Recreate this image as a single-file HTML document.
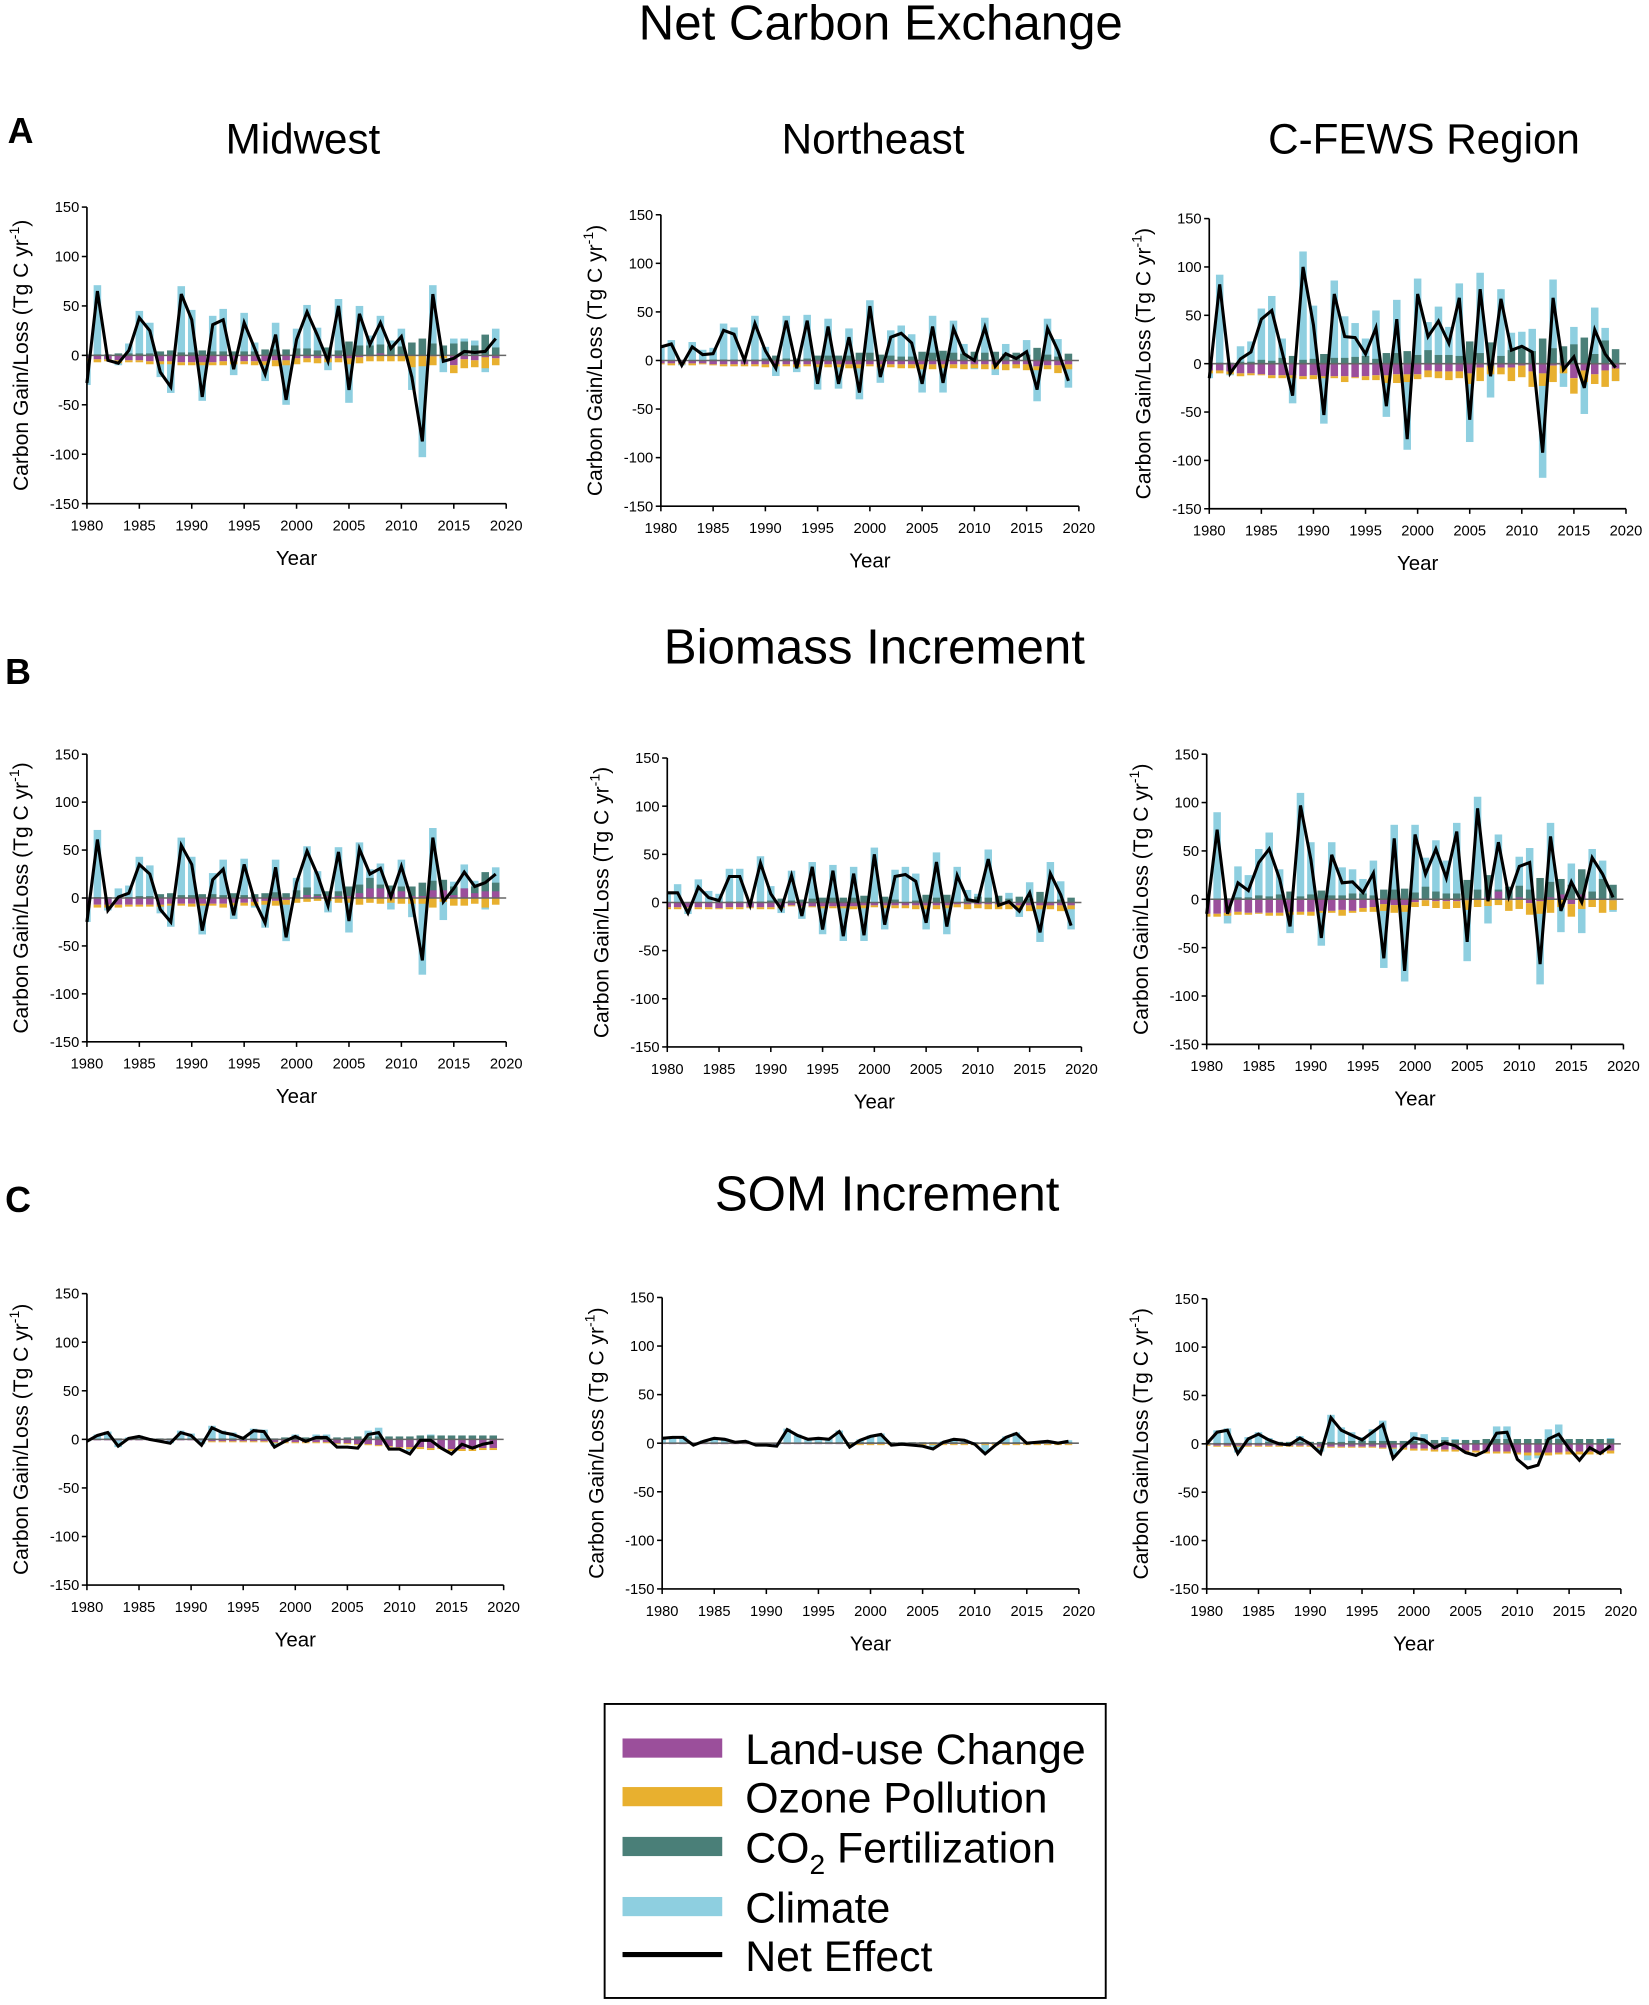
<!DOCTYPE html>
<html><head><meta charset="utf-8"><style>
html,body{margin:0;padding:0;background:#fff;}
svg{display:block;font-family:"Liberation Sans",Arial,sans-serif;}
</style></head><body>
<svg id="fig" width="1649" height="2005" viewBox="0 0 1290 1568.5" xmlns="http://www.w3.org/2000/svg">
<text x="689" y="31" font-size="38.5" text-anchor="middle">Net Carbon Exchange</text>
<text x="6" y="112" font-size="28" font-weight="bold">A</text>
<text x="237" y="120" font-size="33" text-anchor="middle">Midwest</text>
<text x="683" y="120" font-size="33" text-anchor="middle">Northeast</text>
<text x="1114" y="120" font-size="33" text-anchor="middle">C-FEWS Region</text>
<text x="684" y="519" font-size="38.5" text-anchor="middle">Biomass Increment</text>
<text x="4" y="535" font-size="28" font-weight="bold">B</text>
<text x="694" y="947" font-size="38.5" text-anchor="middle">SOM Increment</text>
<text x="4" y="948" font-size="28" font-weight="bold">C</text>
<g>
<rect x="473" y="1333" width="392" height="230" fill="#fff" stroke="#000" stroke-width="1.5"/>
<rect x="487" y="1360" width="78" height="15" fill="#9b4f9b"/>
<text x="583" y="1380" font-size="33.5">Land-use Change</text>
<rect x="487" y="1398" width="78" height="15" fill="#e8b02f"/>
<text x="583" y="1418" font-size="33.5">Ozone Pollution</text>
<rect x="487" y="1437" width="78" height="15" fill="#4a7f78"/>
<text x="583" y="1457" font-size="33.5">CO<tspan font-size="22" dy="9">2</tspan><tspan dy="-9"> Fertilization</tspan></text>
<rect x="487" y="1484" width="78" height="15" fill="#8ecfe0"/>
<text x="583" y="1504" font-size="33.5">Climate</text>
<line x1="487" y1="1529" x2="565" y2="1529" stroke="#000" stroke-width="4"/>
<text x="583" y="1542" font-size="33.5">Net Effect</text>
</g>
<g id="plots"></g>
</svg>
<script>
const years=[];for(let y=1980;y<=2019;y++)years.push(y);
const xTicks=[1980,1985,1990,1995,2000,2005,2010,2015,2020];
const yTicks=[150,100,50,0,-50,-100,-150];

const A_mw_net=[-28,65,-5,-8,5,38,25,-17,-32,62,36,-42,31,36,-14,33,7,-19,21,-45,16,44,20,-6,50,-35,42,11,33,7,19,-22,-87,62,-6,-3,4,3,4,17];
const A_mw_clim=[-30,71,-5,-10,12,45,33,-22,-38,70,46,-46,40,47,-20,43,13,-26,33,-50,27,51,28,-15,57,-48,50,20,40,15,27,-35,-103,71,-17,17,17,15,-17,27];
const A_mw_co2=[1,1,1,2,2,2,2,4,5,3,3,5,4,4,4,4,4,6,6,6,7,7,5,8,5,14,10,10,11,10,9,13,17,12,10,12,14,10,21,8];
const A_mw_lu=[-3,-4,-4,-5,-5,-5,-6,-6,-6,-7,-7,-7,-7,-6,-6,-6,-6,-6,-5,-5,-3,-3,-3,-3,-3,-3,-2,-1,2,0,1,0,0,-1,0,-10,-4,-5,-2,-3];
const A_mw_oz=[-3,-3,-2,-3,-2,-2,-3,-3,-3,-3,-3,-3,-3,-4,-3,-3,-4,-4,-6,-5,-6,-4,-5,-4,-4,-6,-6,-5,-6,-6,-6,-12,-11,-9,-3,-8,-9,-7,-11,-7];

const A_ne_net=[14,17,-5,14,6,7,31,27,0,38,10,-8,41,-8,41,-24,35,-24,24,-33,56,-17,24,28,18,-24,35,-23,33,7,0,34,-6,7,2,9,-30,33,10,-21];
const A_ne_clim=[14,21,-5,19,11,13,38,34,0,46,14,-16,46,-12,47,-30,43,-29,33,-40,62,-23,31,36,27,-33,46,-33,41,17,-9,44,-15,17,-8,21,-42,43,22,-28];
const A_ne_co2=[0,0,0,0,0,1,1,1,1,1,2,5,2,2,2,5,5,5,5,8,8,6,5,4,4,9,8,10,8,7,9,8,9,7,8,6,13,6,4,7];
const A_ne_lu=[-3,-3,-3,-3,-3,-4,-4,-4,-4,-4,-4,-4,-4,-4,-4,-4,-4,-4,-4,-4,-4,-4,-4,-4,-4,-4,-4,-4,-4,-4,-4,-4,-4,-4,-4,-4,-6,-5,-5,-4];
const A_ne_oz=[-1,-2,-1,-2,-1,-1,-2,-2,-2,-2,-3,-2,-2,-3,-2,-3,-3,-3,-4,-4,-2,-3,-3,-4,-4,-5,-5,-4,-4,-5,-4,-5,-5,-6,-4,-6,-4,-4,-8,-5];

const A_cf_net=[-15,82,-10,5,12,46,55,12,-33,100,40,-53,72,28,27,10,37,-44,46,-78,72,28,44,21,68,-58,77,-13,67,14,18,12,-92,68,-6,7,-25,35,10,-4];
const A_cf_clim=[-15,92,-12,18,23,57,70,26,-41,116,60,-62,86,49,42,26,55,-55,66,-89,88,43,59,38,83,-81,94,-35,77,32,33,36,-118,87,-24,38,-52,58,37,-18];
const A_cf_co2=[0,1,1,2,2,4,3,6,8,4,5,10,6,6,7,8,5,11,11,13,9,14,9,9,8,23,11,22,8,14,16,13,26,16,18,20,27,10,24,15];
const A_cf_lu=[-7,-7,-8,-10,-10,-11,-12,-12,-12,-13,-12,-13,-13,-13,-14,-13,-12,-12,-11,-11,-11,-7,-8,-8,-8,-10,-4,-2,-4,-4,-2,-8,-10,-2,-2,-15,-7,-11,-7,-5];
const A_cf_oz=[-3,-3,-3,-3,-2,-1,-3,-3,-3,-3,-4,-2,-2,-6,-1,-4,-5,-8,-9,-8,-5,-7,-7,-9,-7,-11,-14,-9,-7,-14,-12,-16,-13,-17,-8,-16,-12,-10,-17,-13];

const B_mw_net=[-25,61,-13,1,5,35,25,-12,-25,55,35,-34,19,30,-18,35,-3,-26,32,-41,16,49,24,-8,48,-24,51,25,31,1,33,-3,-65,63,-4,10,27,12,16,25];
const B_mw_clim=[-25,71,-13,10,13,43,34,-16,-30,63,43,-38,26,40,-22,41,-10,-31,40,-45,21,54,28,-15,53,-36,58,30,36,-12,40,-20,-80,73,-23,17,35,18,-12,32];
const B_mw_co2=[0,1,1,1,1,2,2,4,5,3,3,4,4,3,5,3,4,5,6,5,8,11,4,7,7,12,14,21,14,13,12,12,16,18,19,12,10,12,27,16];
const B_mw_lu=[-7,-7,-7,-7,-7,-7,-7,-7,-6,-6,-6,-6,-6,-6,-5,-5,-4,-3,-3,-2,0,3,2,2,2,2,5,10,10,5,7,2,2,8,8,3,10,5,7,7];
const B_mw_oz=[-3,-3,-3,-3,-2,-2,-2,-2,-2,-2,-3,-2,-2,-4,-3,-3,-4,-4,-5,-5,-5,-4,-3,-3,-5,-5,-7,-5,-6,-5,-6,-6,-6,-10,-4,-8,-8,-6,-10,-7];

const B_ne_net=[10,10,-11,16,5,2,27,27,-3,41,9,-7,28,-14,37,-28,33,-35,30,-34,50,-23,27,29,22,-21,42,-25,28,3,1,45,-3,1,-9,10,-31,30,8,-24];
const B_ne_clim=[10,19,-12,24,12,9,35,35,-3,48,17,-11,33,-17,42,-33,39,-40,37,-40,57,-28,34,37,30,-28,52,-33,37,13,9,55,-4,10,-15,21,-41,42,22,-28];
const B_ne_co2=[0,0,0,0,0,1,1,1,1,1,2,4,2,3,4,5,5,5,5,7,-2,6,3,-1,2,8,5,8,-1,4,6,5,7,4,6,4,11,-3,3,5];
const B_ne_lu=[-5,-5,-5,-5,-5,-6,-5,-5,-5,-5,-5,-5,-3,-4,-4,-4,-4,-4,-4,-3,-3,-3,-3,-3,-3,-3,-3,-3,-2,-2,-2,-2,-2,-2,-3,-3,-3,-3,-3,-3];
const B_ne_oz=[-2,-2,-1,-2,-2,-1,-2,-2,-1,-2,-2,-1,-1,-1,-1,-2,-2,-2,-3,-3,-2,-3,-3,-3,-4,-4,-4,-3,-3,-5,-4,-5,-5,-5,-4,-6,-4,-4,-6,-4];

const B_cf_net=[-15,72,-15,17,9,38,52,21,-28,97,41,-40,46,17,18,7,27,-61,63,-74,67,26,52,22,70,-44,94,-2,59,3,34,38,-67,65,-12,18,-3,43,26,2];
const B_cf_clim=[-15,90,-25,34,25,52,69,31,-35,110,59,-48,59,33,31,21,40,-71,77,-85,77,43,61,40,79,-64,106,-25,67,10,44,53,-88,79,-34,37,-35,52,40,-13];
const B_cf_co2=[0,0,1,2,2,4,3,5,8,3,5,9,4,4,6,6,4,10,10,11,7,13,8,6,6,20,10,25,10,13,14,10,22,18,21,15,31,8,21,15];
const B_cf_lu=[-15,-15,-14,-13,-14,-14,-14,-14,-13,-13,-13,-12,-12,-11,-12,-9,-8,-5,-6,-6,-3,-1,-2,-2,-2,-1,0,2,8,-1,2,-4,-2,2,5,-5,5,0,0,-1];
const B_cf_oz=[-3,-3,-3,-3,-2,-1,-3,-3,-3,-3,-4,-2,-2,-6,-2,-4,-5,-7,-8,-7,-5,-6,-7,-8,-7,-10,-8,-7,-6,-11,-10,-12,-13,-14,-8,-13,-10,-8,-14,-10];

const C_mw_net=[-2,4,7,-7,1,3,0,-2,-4,7,4,-6,12,7,5,1,9,8,-8,-2,3,-2,2,2,-8,-8,-9,5,7,-10,-10,-15,-1,-1,-9,-15,-5,-9,-5,-3];
const C_mw_clim=[-2,5,8,-8,2,4,1,-2,-4,9,6,-5,14,9,7,3,11,10,-7,-1,5,0,5,5,-5,-4,-5,9,12,-5,-3,-12,3,5,-5,-11,2,-4,1,3];
const C_mw_co2=[0,0,1,1,1,1,1,1,1,1,1,1,1,1,1,1,1,1,1,2,2,2,2,2,2,2,3,3,3,3,3,3,4,4,4,4,4,4,4,4];
const C_mw_lu=[0,-1,-1,-1,-1,-1,-1,-1,-1,-1,-1,-1,-2,-2,-2,-2,-2,-2,-3,-3,-3,-3,-3,-3,-4,-4,-5,-5,-6,-7,-8,-8,-8,-9,-9,-10,-10,-10,-9,-9];
const C_mw_oz=[0,0,0,0,0,0,0,0,0,0,0,0,-1,-1,-1,-1,-1,-1,-1,-1,-1,-1,-1,-1,-1,-1,-1,-1,-1,-1,-1,-2,-2,-2,-1,-2,-2,-2,-2,-2];

const C_ne_net=[5,6,6,-2,2,5,4,1,2,-2,-2,-3,14,8,4,5,4,12,-4,3,7,9,-2,-1,-2,-3,-6,1,4,3,-1,-11,-2,6,10,0,1,2,0,2];
const C_ne_clim=[5,7,7,-1,3,6,5,2,3,-1,-1,-2,15,9,5,6,5,13,-3,4,8,10,-1,0,-1,-2,-5,2,5,4,0,-10,-1,7,11,1,2,3,1,3];
const C_ne_co2=[0,0,0,0,0,0,0,0,0,0,0,0,0,0,0,1,1,1,1,1,1,1,1,1,1,1,1,1,1,1,1,1,1,1,1,1,1,1,1,1];
const C_ne_lu=[-1,-1,-1,-1,-1,-1,-1,-1,-1,-1,-1,-1,-1,-1,-1,-1,-1,-1,-1,-1,-1,-1,-1,-1,-1,-1,-1,-1,-1,-1,-1,-1,-1,-1,-1,-1,-1,-1,-1,-1];
const C_ne_oz=[0,0,0,0,0,0,0,0,0,0,0,0,0,0,0,0,0,0,-1,-1,-1,-1,-1,-1,-1,-1,-1,-1,-1,-1,-1,-1,-1,-1,-1,-1,-1,-1,-1,-1];

const C_cf_net=[0,12,14,-10,5,10,4,0,-1,6,0,-10,27,14,9,4,12,20,-15,-3,6,4,-4,1,-2,-9,-12,-7,11,12,-16,-25,-22,5,10,-5,-17,-4,-10,-2];
const C_cf_clim=[0,14,16,-9,7,12,6,2,1,8,2,-8,30,17,12,7,15,24,-11,1,12,10,3,7,5,-3,-5,1,18,18,-10,-17,-15,15,20,3,-10,5,-3,6];
const C_cf_co2=[1,1,1,1,1,1,2,2,2,2,2,2,2,2,3,3,3,3,3,3,3,4,4,4,4,4,4,5,5,5,5,5,5,5,5,5,5,5,5,5];
const C_cf_lu=[-1,-2,-2,-2,-2,-2,-2,-2,-2,-2,-2,-3,-3,-3,-3,-3,-3,-4,-4,-4,-5,-5,-6,-6,-6,-7,-7,-8,-8,-8,-9,-9,-9,-9,-9,-8,-8,-8,-8,-7];
const C_cf_oz=[-1,-1,-1,-1,-1,-1,-1,-1,-1,-1,-1,-1,-1,-1,-1,-1,-1,-1,-1,-2,-2,-2,-2,-2,-2,-2,-2,-2,-2,-2,-2,-3,-3,-3,-2,-3,-3,-3,-3,-3];

const panels=[
 {id:'a-midwest',x0:68,x1:396,yt:162,yb:394,d:[A_mw_net,A_mw_clim,A_mw_co2,A_mw_lu,A_mw_oz]},
 {id:'a-northeast',x0:517,x1:844,yt:168,yb:396,d:[A_ne_net,A_ne_clim,A_ne_co2,A_ne_lu,A_ne_oz]},
 {id:'a-cfews',x0:946,x1:1272,yt:171,yb:398,d:[A_cf_net,A_cf_clim,A_cf_co2,A_cf_lu,A_cf_oz]},
 {id:'b-midwest',x0:68,x1:396,yt:590,yb:815,d:[B_mw_net,B_mw_clim,B_mw_co2,B_mw_lu,B_mw_oz]},
 {id:'b-northeast',x0:522,x1:846,yt:593,yb:819,d:[B_ne_net,B_ne_clim,B_ne_co2,B_ne_lu,B_ne_oz]},
 {id:'b-cfews',x0:944,x1:1270,yt:590,yb:817,d:[B_cf_net,B_cf_clim,B_cf_co2,B_cf_lu,B_cf_oz]},
 {id:'c-midwest',x0:68,x1:394,yt:1012,yb:1240,d:[C_mw_net,C_mw_clim,C_mw_co2,C_mw_lu,C_mw_oz]},
 {id:'c-northeast',x0:518,x1:844,yt:1015,yb:1243,d:[C_ne_net,C_ne_clim,C_ne_co2,C_ne_lu,C_ne_oz]},
 {id:'c-cfews',x0:944,x1:1268,yt:1016,yb:1243,d:[C_cf_net,C_cf_clim,C_cf_co2,C_cf_lu,C_cf_oz]}
];
const NS='http://www.w3.org/2000/svg';
const root=document.getElementById('plots');
function mk(tag,attrs,parent){const e=document.createElementNS(NS,tag);for(const k in attrs)e.setAttribute(k,attrs[k]);parent.appendChild(e);return e;}
panels.forEach(p=>{
  const g=mk('g',{},root);
  
  
  const xs=y=>p.x0+(y-1980)/40*(p.x1-p.x0);
  const ys=v=>p.yb-(v+150)/300*(p.yb-p.yt);
  const bw=(p.x1-p.x0)/40*0.72;
  const clipId='clip-'+p.id;
  const cp=mk('clipPath',{id:clipId},g);mk('rect',{x:p.x0,y:p.yt-5,width:p.x1-p.x0+5,height:p.yb-p.yt+10},cp);
  const bars=mk('g',{'clip-path':'url(#'+clipId+')'},g);
  const [net,clim,co2,lu,oz]=p.d;
  function bar(name,x,v0,v1,color){
    const r=mk('rect',{x:x-bw/2,y:Math.min(ys(v0),ys(v1)),width:bw,height:Math.abs(ys(v0)-ys(v1)),fill:color},bars);
    
    
  }
  years.forEach((yr,i)=>{
    const x=xs(yr);
    bar('bar-climate-'+yr,x,0,clim[i],'#8ecfe0');
    bar('bar-co2-'+yr,x,0,co2[i],'#4a7f78');
    bar('bar-land-use-'+yr,x,0,lu[i],'#9b4f9b');
    const base=lu[i]<0?lu[i]:0;
    bar('bar-ozone-'+yr,x,base,base+oz[i],'#e8b02f');
  });
  const z=mk('line',{x1:p.x0,x2:p.x1,y1:ys(0),y2:ys(0),stroke:'#666','stroke-width':1.2},g);
  
  
  const pl=mk('polyline',{points:years.map((yr,i)=>xs(yr)+','+ys(net[i])).join(' '),fill:'none',stroke:'#000','stroke-width':2.4,'stroke-linejoin':'miter'},g);
  
  
  const ax=mk('path',{d:`M${p.x0},${p.yt}V${p.yb}H${p.x1}`,fill:'none',stroke:'#000','stroke-width':1.3},g);
  
  
  yTicks.forEach(v=>{
    mk('line',{x1:p.x0-4,x2:p.x0,y1:ys(v),y2:ys(v),stroke:'#000','stroke-width':1.2},g);
    const t=mk('text',{x:p.x0-6,y:ys(v)+4,'font-size':11.5,'text-anchor':'end'},g);
    
    
    t.textContent=v;
  });
  xTicks.forEach(v=>{
    mk('line',{x1:xs(v),x2:xs(v),y1:p.yb,y2:p.yb+4,stroke:'#000','stroke-width':1.2},g);
    const t=mk('text',{x:xs(v),y:p.yb+21,'font-size':11.5,'text-anchor':'middle'},g);
    
    
    t.textContent=v;
  });
  const xt=mk('text',{x:(p.x0+p.x1)/2,y:p.yb+48,'font-size':16,'text-anchor':'middle'},g);
  
  
  xt.textContent='Year';
  const cx=p.x0-46,cy=(p.yt+p.yb)/2;
  const yt=mk('text',{x:cx,y:cy,'font-size':16.5,'text-anchor':'middle',transform:`rotate(-90 ${cx} ${cy})`},g);
  
  
  yt.innerHTML='Carbon Gain/Loss (Tg C yr<tspan dy="-7" font-size="11">-1</tspan><tspan dy="7">)</tspan>';
});
</script>
</body></html>
